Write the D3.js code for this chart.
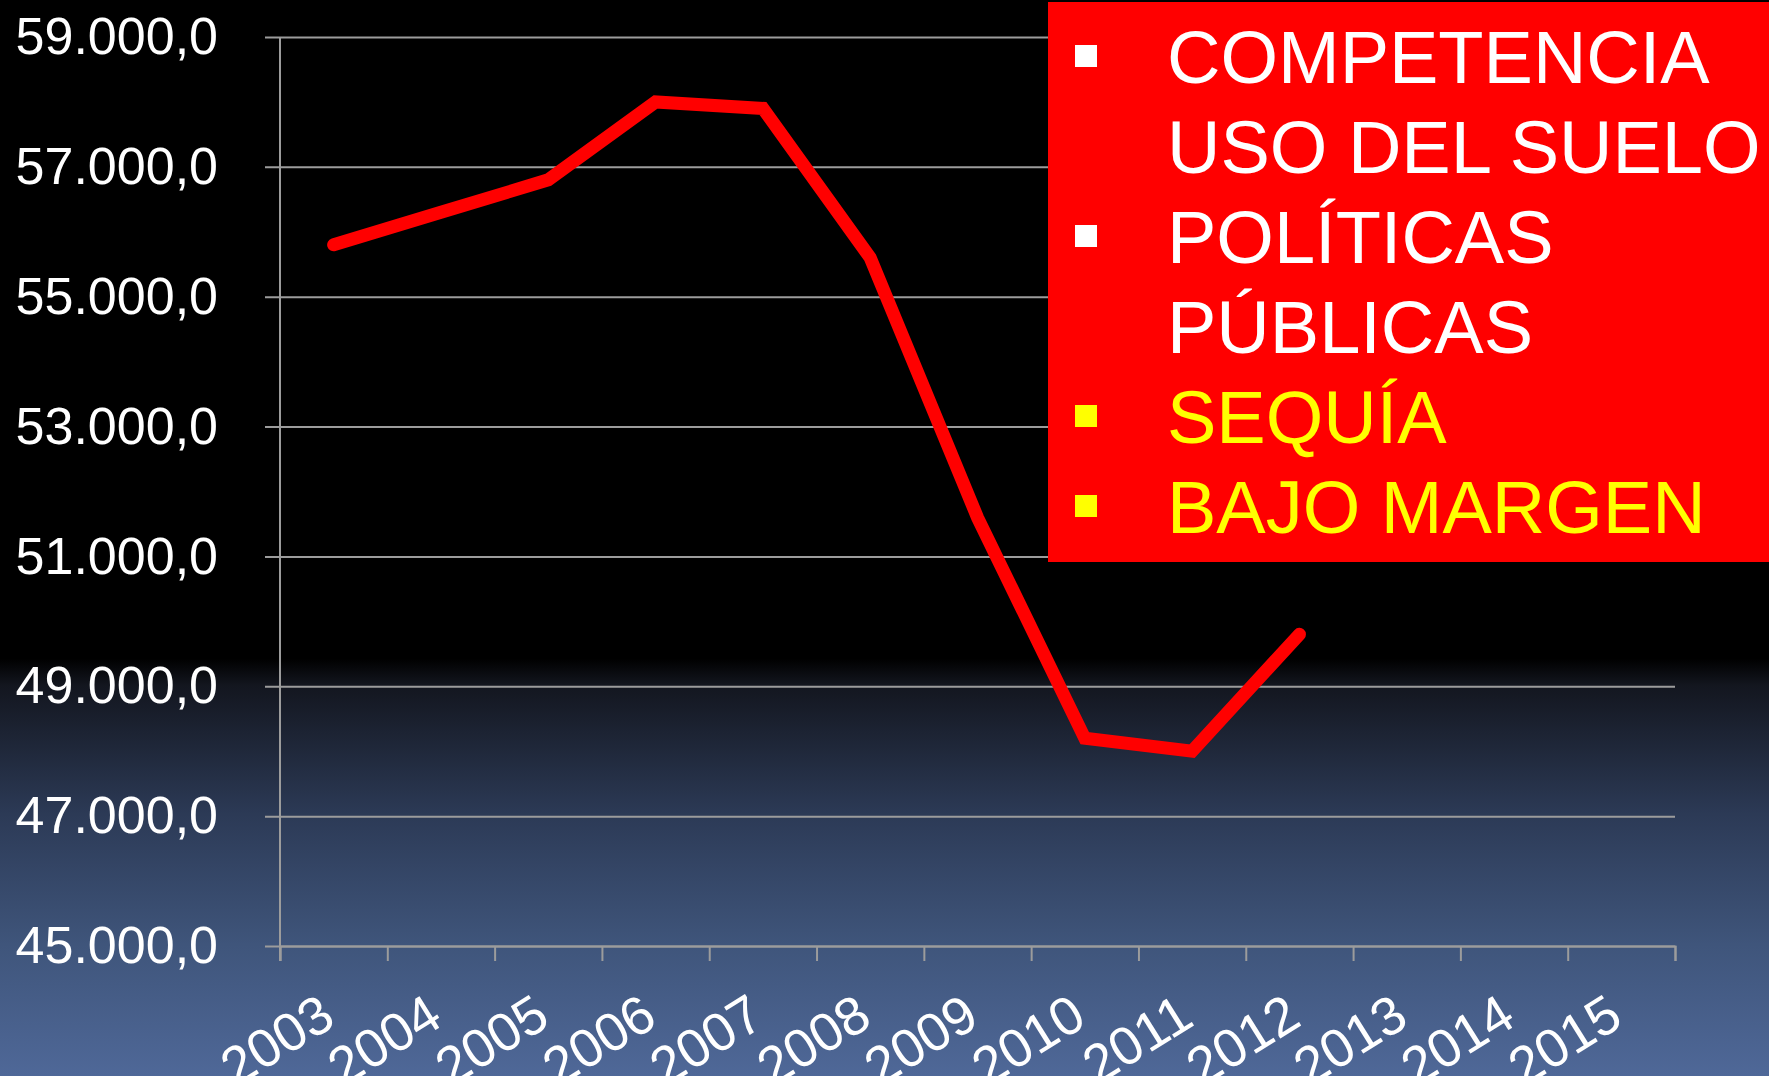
<!DOCTYPE html>
<html>
<head>
<meta charset="utf-8">
<script src="https://cdn.jsdelivr.net/npm/d3@7"></script>
<style>
  html, body { margin: 0; padding: 0; background: #000; overflow: hidden; }
  text { font-family: "Liberation Sans", Arial, sans-serif; }
</style>
</head>
<body>
<div id="chart"></div>
<script>
// data
const years = ["2003", "2004", "2005", "2006", "2007", "2008", "2009", "2010", "2011", "2012", "2013", "2014", "2015"]
const valueYears = ["2003", "2004", "2005", "2006", "2007", "2008", "2009", "2010", "2011", "2012"]
const values = [55800, 56300, 56800, 58000, 57900, 55600, 51600, 48200, 48000, 49800]
const yTicks = [45000, 47000, 49000, 51000, 53000, 55000, 57000, 59000]
const legendLines = ["COMPETENCIA", "USO DEL SUELO", "POLÍTICAS", "PÚBLICAS", "SEQUÍA", "BAJO MARGEN"]
const legendBullets = [true, false, true, false, true, true]
const legendColors = ["#ffffff", "#ffffff", "#ffffff", "#ffffff", "#ffff00", "#ffff00"]

const W = 1769, H = 1076
const margin = {top: 37, right: 94, bottom: 130, left: 280}

const svg = d3.select("#chart").append("svg")
    .attr("width", W)
    .attr("height", H)

// background gradient
const grad = svg.append("defs").append("linearGradient")
    .attr("id", "bg")
    .attr("x1", 0).attr("y1", 0).attr("x2", 0).attr("y2", 1)
const stops = [[0, "#000000"], [0.612, "#000000"], [0.637, "#13161f"], [0.757, "#2c3a56"], [0.878, "#3f557b"], [1, "#4f6898"]]
grad.selectAll("stop").data(stops).enter().append("stop")
    .attr("offset", d => d[0])
    .attr("stop-color", d => d[1])
svg.append("rect").attr("width", W).attr("height", H).attr("fill", "url(#bg)")

const x = d3.scaleBand()
    .domain(years)
    .range([margin.left, W - margin.right])

const y = d3.scaleLinear()
    .domain([45000, 59000])
    .range([H - margin.bottom, margin.top])

const es = d3.formatLocale({decimal: ",", thousands: ".", grouping: [3], currency: ["", " €"]})
const fmt = es.format(",.1f")

// gridlines + y labels
const gy = svg.append("g")
    .attr("transform", "translate(" + (margin.left - 15) + ",0)")
    .call(d3.axisLeft(y).tickValues(yTicks).tickFormat(fmt)
        .tickSize(-(W - margin.right - margin.left + 15)).tickPadding(47))
gy.select(".domain").remove()
gy.selectAll("line").attr("stroke", "#9c9c9c").attr("stroke-width", 2)
gy.selectAll("text")
    .attr("fill", "#ffffff")
    .attr("font-size", 52)

// vertical axis line
svg.append("line")
    .attr("x1", margin.left).attr("x2", margin.left)
    .attr("y1", y(59000)).attr("y2", y(45000) + 15)
    .attr("stroke", "#9c9c9c").attr("stroke-width", 2)

// x tick marks at band edges
const edge = d3.scaleLinear().domain([0, years.length]).range(x.range())
const gt = svg.append("g")
    .attr("transform", "translate(0," + y(45000) + ")")
    .call(d3.axisBottom(edge).tickValues(d3.range(years.length + 1)).tickFormat("").tickSize(15))
gt.select(".domain").attr("stroke", "#9c9c9c").attr("stroke-width", 2)
gt.selectAll("line").attr("stroke", "#9c9c9c").attr("stroke-width", 2)

// x labels, rotated
const gx = svg.append("g")
    .attr("transform", "translate(0," + y(45000) + ")")
    .call(d3.axisBottom(x).tickSize(0))
gx.select(".domain").remove()
gx.selectAll("text")
    .attr("fill", "#ffffff")
    .attr("font-size", 54)
    .attr("text-anchor", "end")
    .attr("y", 0)
    .attr("dy", 0)
    .attr("transform", "translate(4,78) rotate(-32)")

// line
const line = d3.line()
    .x((d, i) => x(valueYears[i]) + x.bandwidth() / 2)
    .y(d => y(d))

svg.append("path")
    .datum(values)
    .attr("fill", "none")
    .attr("stroke", "#ff0000")
    .attr("stroke-width", 13)
    .attr("stroke-linecap", "round")
    .attr("stroke-linejoin", "miter")
    .attr("d", line)

// red text box
const box = svg.append("g")
box.append("rect")
    .attr("x", 1048).attr("y", 2)
    .attr("width", W - 1048).attr("height", 560)
    .attr("fill", "#ff0000")

const rows = box.selectAll(".row")
    .data(legendLines)
    .enter().append("g")
    .attr("class", "row")
    .attr("transform", (d, i) => "translate(0," + (83 + i * 90) + ")")

rows.filter((d, i) => legendBullets[i])
    .append("rect")
    .attr("x", 1075).attr("y", -38)
    .attr("width", 22).attr("height", 22)
    .attr("fill", d => legendColors[legendLines.indexOf(d)])

rows.append("text")
    .attr("x", 1167)
    .attr("font-size", 74)
    .attr("fill", (d, i) => legendColors[i])
    .text(d => d)
</script>
</body>
</html>
